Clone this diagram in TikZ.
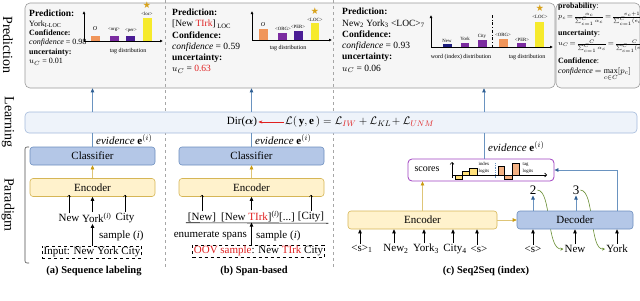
\documentclass[tikz,border=0pt]{standalone}
\usepackage{fontspec}
\setmainfont{Liberation Serif}
\usepackage{amsmath}
\usepackage{amssymb}
\usetikzlibrary{arrows.meta, positioning, calc, backgrounds}
\definecolor{nerblue}{HTML}{B4C7E7}
\definecolor{nerblueline}{HTML}{6C8EBF}
\definecolor{neryellow}{HTML}{FFF2CC}
\definecolor{nergold}{HTML}{D6B656}
\definecolor{nergoldarrow}{HTML}{C99A10}
\definecolor{nerlearn}{HTML}{EEF3FA}
\definecolor{nerlearnline}{HTML}{A4BADB}
\definecolor{nerpred}{HTML}{F6F6F6}
\definecolor{nerpredline}{HTML}{9A9A9A}
\definecolor{nerpurple}{HTML}{A040C0}
\definecolor{nerarrow}{HTML}{6A93C0}
\definecolor{nerarrowdark}{HTML}{2F5F93}
\definecolor{nergreen}{HTML}{6A8F35}
\definecolor{nerred}{HTML}{E02020}
\definecolor{barorange}{HTML}{F0955A}
\definecolor{barpurple}{HTML}{7B2CA0}
\definecolor{barindigo}{HTML}{4A1C94}
\definecolor{baryellow}{HTML}{F6EA2C}
\definecolor{barnavy}{HTML}{1C1C7C}
\definecolor{stargold}{HTML}{D8A21A}
\definecolor{logitorange}{HTML}{F4B183}
\definecolor{logityellow}{HTML}{FFE07A}
\tikzset{
  blockblue/.style={draw=nerblueline, fill=nerblue, rounded corners=3pt, inner sep=0pt, line width=0.6pt, font=\fontsize{11}{12}\selectfont},
  blockyellow/.style={draw=nergold, fill=neryellow, rounded corners=3pt, inner sep=0pt, line width=0.6pt, font=\fontsize{11}{12}\selectfont},
  predbox/.style={draw=nerpredline, fill=nerpred, rounded corners=5pt, line width=0.6pt, inner sep=0pt},
  learnbar/.style={draw=nerlearnline, fill=nerlearn, rounded corners=4pt, line width=0.6pt, inner sep=0pt},
  scorebox/.style={draw=nerpurple, rounded corners=4pt, line width=0.8pt, inner sep=0pt},
  inbox/.style={draw, dashed, line width=0.6pt, inner sep=1.2pt, font=\fontsize{11}{12}\selectfont},
  wordtxt/.style={inner sep=1pt, font=\fontsize{11}{12}\selectfont},
  evtxt/.style={inner sep=0pt, font=\fontsize{11}{12}\selectfont},
  captxt/.style={inner sep=0pt, font=\fontsize{10.5}{12}\selectfont\bfseries},
  sidelabel/.style={rotate=-90, inner sep=0pt, font=\fontsize{14}{15}\selectfont},
  predtxt/.style={align=left, inner sep=0pt, anchor=north west},
  barlbl/.style={inner sep=0pt, font=\fontsize{4.8}{5}\selectfont},
  chartlbl/.style={inner sep=0pt, font=\fontsize{6}{7}\selectfont},
  starlbl/.style={inner sep=0pt, text=stargold, font=\fontsize{8}{8}\selectfont},
  goldarrow/.style={draw=nergold!80, line width=0.6pt, -{Triangle[length=4pt,width=3.5pt,color=nergoldarrow]}},
  bluearrow/.style={draw=nerarrow, line width=0.7pt, -{Triangle[length=4pt,width=3.5pt,color=nerarrowdark]}},
  evline/.style={draw=nerarrow, line width=0.7pt},
  thinarrow/.style={draw=black, line width=0.3pt, -{Straight Barb[length=2pt,width=3.5pt]}},
  solidarrow/.style={draw=black, line width=0.8pt, -{Triangle[length=4pt,width=3.5pt]}},
  axisarrow/.style={draw=black, line width=0.8pt, -{Latex[length=3pt,width=3pt]}},
  greencurve/.style={draw=nergreen, line width=0.6pt, -{Stealth[length=3pt,width=3pt]}},
  dashdiv/.style={draw=gray!70, dashed, line width=0.6pt}
}
\begin{document}
\begin{tikzpicture}[x=1pt, y=-1pt]
\useasboundingbox (0,0) rectangle (640,300);

\node[sidelabel] (lblpred) at (8,45) {Prediction};
\node[sidelabel] (lbllearn) at (8,122) {Learning};
\node[sidelabel] (lblpara) at (8,205) {Paradigm};
\draw[line width=0.6pt, rounded corners=2pt, gray!60!black] (29,147) -- (25,147) -- (25,263) -- (29,263);

\node[predbox, minimum width=530, minimum height=85] (pred) at (290,45.5) {};
\node[predbox, minimum width=84, minimum height=85] (formbox) at (598,45.5) {};
\draw[dashdiv] (165,0) -- (165,268);
\draw[dashdiv] (333,0) -- (333,268);

\node[predtxt, font=\fontsize{8}{9.4}\selectfont] (ptxtA) at (29,10) {{\fontsize{9.5}{9.4}\selectfont\textbf{Prediction:}}\\ York\textsubscript{I-LOC}\\ \textbf{Confidence:}\\ \textit{confidence} = 0.98\\ \textbf{uncertainty:}\\ $u_C$ = 0.01};
\draw[axisarrow] (84,41) -- (84,11);
\draw[axisarrow] (84,41) -- (163,41);
\fill[barorange] (91,41) rectangle (100,36);
\fill[barpurple] (110,41) rectangle (119,36);
\fill[barindigo] (126,41) rectangle (135,36);
\fill[baryellow] (143,41) rectangle (152,18);
\node[barlbl, font=\fontsize{6}{6}\selectfont] (lblOa) at (95,29) {\textit{O}};
\node[barlbl] (lblORGa) at (114,30) {<org>};
\node[barlbl] (lblPERa) at (131,31) {<per>};
\node[barlbl] (lblLOCa) at (147,14) {<loc>};
\node[starlbl] (starA) at (147,6) {$\bigstar$};
\node[chartlbl] (distA) at (128,51) {tag distribution};

\node[predtxt, font=\fontsize{9.5}{11.2}\selectfont] (ptxtB) at (172,9) {\textbf{Prediction:}\\ {[}New \textcolor{nerred}{TIrk}]\,\textsubscript{LOC}\\ \textbf{Confidence:}\\ \textit{confidence} = 0.59\\ \textbf{uncertainty:}\\ $u_C$ = \textcolor{nerred}{0.63}};
\draw[axisarrow] (252,40) -- (252,11);
\draw[axisarrow] (252,40) -- (332,40);
\fill[barorange] (259,40) rectangle (268,29);
\fill[barpurple] (278,40) rectangle (287,33);
\fill[barindigo] (294,40) rectangle (303,31);
\fill[baryellow] (311,40) rectangle (319,23);
\node[barlbl, font=\fontsize{6}{6}\selectfont] (lblOb) at (263,25) {\textit{O}};
\node[barlbl] (lblORGb) at (283,29) {<ORG>};
\node[barlbl] (lblPERb) at (298,27) {<PER>};
\node[barlbl] (lblLOCb) at (315,20) {<LOC>};
\node[starlbl] (starB) at (315,12) {$\bigstar$};
\node[chartlbl] (distB) at (288,48) {tag distribution};

\node[predtxt, font=\fontsize{9.5}{11.3}\selectfont] (ptxtC) at (342,8) {\textbf{Prediction:}\\ New\textsubscript{2} York\textsubscript{3} <LOC>\textsubscript{7}\\ \textbf{Confidence:}\\ \textit{confidence} = 0.93\\ \textbf{uncertainty:}\\ $u_C$ = 0.06};
\draw[axisarrow] (431,47) -- (431,15);
\draw[axisarrow] (431,47) -- (553,47);
\fill[barnavy] (443,47) rectangle (452,44);
\fill[barpurple] (461,47) rectangle (469,43);
\fill[barpurple] (478,47) rectangle (487,40);
\fill[barorange] (499,47) rectangle (508,39);
\fill[barpurple] (517,47) rectangle (526,43);
\fill[baryellow] (535,47) rectangle (544,22);
\draw[dash dot, line width=0.8pt] (492,15) -- (492,47);
\node[barlbl] (lblNewC) at (447,41) {New};
\node[barlbl] (lblYorkC) at (465,39) {York};
\node[barlbl] (lblCityC) at (482,36) {City};
\node[barlbl] (lblORGc) at (503,35) {<ORG>};
\node[barlbl] (lblPERc) at (522,40) {<PER>};
\node[barlbl] (lblLOCc) at (540,17) {<LOC>};
\node[starlbl] (starC) at (540,9) {$\bigstar$};
\node[chartlbl] (distWordC) at (461,57) {word (index) distribution};
\node[chartlbl] (distTagC) at (527,57) {tag distribution};

\node[predtxt, font=\fontsize{8}{9}\selectfont] (formtxt) at (558,3) {\textbf{probability}:\\[1pt] {\fontsize{7.2}{8}\selectfont$p_c\!=\!\frac{\alpha_c}{\sum_{c=1}^{C}\alpha_c}\!=\!\frac{e_c+1}{\sum_{c=1}^{C}(e_c\!+\!1)}$}\\[4pt] \textbf{uncertainty}:\\[1pt] {\fontsize{7.2}{8}\selectfont$u_C\!=\!\frac{C}{\sum_{c=1}^{C}\alpha_c}\!=\!\frac{C}{\sum_{c=1}^{C}(e_c\!+\!1)}$}\\[5pt] \textbf{Confidence}:\\[1pt] \textit{confidence} $=\max\limits_{c\in C}[p_c]$};

\node[learnbar, minimum width=612, minimum height=21] (learn) at (331,122.5) {};
\node[wordtxt] (dir) at (242,122) {Dir($\boldsymbol{\alpha}$)};
\node[wordtxt, anchor=west] (loss) at (284,122) {$\mathcal{L}(\,\mathbf{y},\mathbf{e}\,) = \mathcal{L}_{\color{nerred}IW} + \mathcal{L}_{KL}\!+ \mathcal{L}_{\color{nerred}UNM}$};
\draw[nerred, line width=0.6pt, -{Stealth[length=4pt]}] (loss.west) -- (dir.east);

\node[blockblue, minimum width=125, minimum height=18] (clsA) at (92.5,156) {Classifier};
\node[blockyellow, minimum width=125, minimum height=18] (encA) at (92.5,187.5) {Encoder};
\draw[goldarrow] (encA) -- (clsA);
\draw[evline] (clsA.north) -- (clsA.north |- learn.south);
\draw[bluearrow] (learn.north -| clsA) -- (pred.south -| clsA);
\node[evtxt, anchor=west] (evA) at (96,140) {\textit{evidence} $\mathbf{e}^{(i)}$};
\node[wordtxt] (wNewA) at (69,218) {New};
\node[wordtxt, anchor=west] (wYorkA) at (81,218) {York\textsuperscript{(\textit{i})}};
\node[wordtxt] (wCityA) at (125,218) {City};
\draw[thinarrow] (wNewA.north) -- ([yshift=2pt]wNewA.north |- encA.south);
\draw[solidarrow] (wYorkA.north -| encA) -- (encA.south);
\draw[thinarrow] (wCityA.north) -- ([yshift=2pt]wCityA.north |- encA.south);
\node[inbox] (inA) at (92,252) {Input: New York City};
\draw[solidarrow] (inA.north -| encA) -- (wYorkA.south -| encA);
\node[wordtxt, anchor=west] (smpA) at (98,236) {sample (\textit{i})};
\node[captxt] (capA) at (94,271) {(a) Sequence labeling};

\node[blockblue, minimum width=145, minimum height=18] (clsB) at (251.5,156) {Classifier};
\node[blockyellow, minimum width=145, minimum height=18] (encB) at (251.5,187.5) {Encoder};
\draw[goldarrow] (encB) -- (clsB);
\draw[evline] (clsB.north) -- (clsB.north |- learn.south);
\draw[bluearrow] (learn.north -| clsB) -- (pred.south -| clsB);
\node[evtxt, anchor=west] (evB) at (255,140) {\textit{evidence} $\mathbf{e}^{(i)}$};
\node[wordtxt] (sNew) at (202,217) {[New]};
\node[wordtxt, anchor=west] (sNewTIrk) at (220,217) {[New \textcolor{nerred}{TIrk}]\textsuperscript{(\textit{i})}};
\node[wordtxt] (sDots) at (287,217) {[...]};
\node[wordtxt] (sCity) at (311,217) {[City]};
\draw[line width=0.6pt] ([xshift=-1pt]sNew.south west) -- ([xshift=3pt]sCity.south east);
\draw[thinarrow] (sNew.north) -- ([yshift=2pt]sNew.north |- encB.south);
\draw[solidarrow] (sNewTIrk.north -| encB) -- (encB.south);
\draw[thinarrow] (sCity.north) -- ([yshift=2pt]sCity.north |- encB.south);
\node[inbox] (inB) at (258.5,251) {\textcolor{nerred}{OOV sample}: New \textcolor{nerred}{TIrk} City};
\draw[solidarrow] (inB.north -| encB) -- ([yshift=1pt]sNewTIrk.south -| encB);
\node[wordtxt, anchor=east] (enumB) at (248,236) {enumerate spans};
\node[wordtxt, anchor=west] (smpB) at (255,236) {sample (\textit{i})};
\node[captxt] (capB) at (254,271) {(b) Span-based};

\node[scorebox, minimum width=146, minimum height=22] (scores) at (481,170) {};
\node[wordtxt, font=\fontsize{10}{11}\selectfont] (scoretxt) at (427,169.5) {scores};
\draw[-{Straight Barb[length=2pt,width=4pt]}, line width=0.6pt] (452,178) -- (452,162);
\draw[-{Straight Barb[length=2pt,width=4pt]}, line width=0.6pt] (452,175) -- (547,175);
\filldraw[fill=logityellow, draw=black, line width=0.5pt] (455,175) rectangle (462,179);
\filldraw[fill=logityellow, draw=black, line width=0.5pt] (462,175) rectangle (469,171);
\filldraw[fill=logityellow, draw=black, line width=0.5pt] (469,175) rectangle (477,168);
\filldraw[fill=logitorange, draw=black, line width=0.5pt] (498,175) rectangle (504,166);
\filldraw[fill=logitorange, draw=black, line width=0.5pt] (504,175) rectangle (512,179);
\filldraw[fill=logitorange, draw=black, line width=0.5pt] (512,175) rectangle (519,163);
\draw[nerarrow, densely dotted, line width=0.8pt] (495,163) -- (495,178);
\node[barlbl] (idxlbl) at (484,168) {\shortstack[l]{index\\logits}};
\node[barlbl] (taglbl) at (528,168) {\shortstack[l]{tag\\logits}};

\node[blockyellow, minimum width=149, minimum height=18] (encC) at (422.5,220) {Encoder};
\node[blockblue, minimum width=116, minimum height=18] (dec) at (575,220) {Decoder};
\draw[goldarrow] (encC.north) -- (encC.north |- scores.south);
\draw[goldarrow] (encC.east) -- (dec.west);
\draw[evline] ([xshift=3pt]scores.north) -- ([xshift=3pt]scores.north |- learn.south);
\draw[bluearrow] ([xshift=3pt]learn.north -| scores) -- ([xshift=3pt]pred.south -| scores);
\node[evtxt, anchor=west] (evC) at (488,147) {\textit{evidence} $\mathbf{e}^{(i)}$};
\node[wordtxt] (eS1) at (362,249) {<s>\textsubscript{1}};
\node[wordtxt] (eNew) at (396,249) {New\textsubscript{2}};
\node[wordtxt] (eYork) at (426,249) {York\textsubscript{3}};
\node[wordtxt] (eCity) at (455,249) {City\textsubscript{4}};
\node[wordtxt] (eS2) at (479,249) {<s>};
\foreach \w in {eS1,eNew,eYork,eCity,eS2}
  \draw[solidarrow] ([xshift=-2pt]\w.north) -- ([xshift=-2pt]\w.north |- encC.south);
\node[wordtxt, font=\fontsize{13}{14}\selectfont] (out2) at (533,190) {2};
\node[wordtxt, font=\fontsize{13}{14}\selectfont] (out3) at (576,190) {3};
\draw[bluearrow] (dec.north -| out2) -- (out2.south);
\draw[bluearrow] (dec.north -| out3) -- (out3.south);
\node[wordtxt] (dS) at (533,249) {<s>};
\node[wordtxt] (dNew) at (575,249) {New};
\node[wordtxt] (dYork) at (617,249) {York};
\foreach \w in {dS,dNew,dYork}
  \draw[solidarrow] (\w.north) -- (\w.north |- dec.south);
\begin{scope}[on background layer]
\draw[greencurve] (out2.east) .. controls (552,191) and (546,250) .. (dNew.west);
\draw[greencurve] (out3.east) .. controls (595,191) and (589,250) .. (dYork.west);
\end{scope}
\draw[bluearrow] (dec.north -| dYork) |- (scores.east);
\node[captxt] (capC) at (486,271) {(c) Seq2Seq (index)};
\end{tikzpicture}
\end{document}
